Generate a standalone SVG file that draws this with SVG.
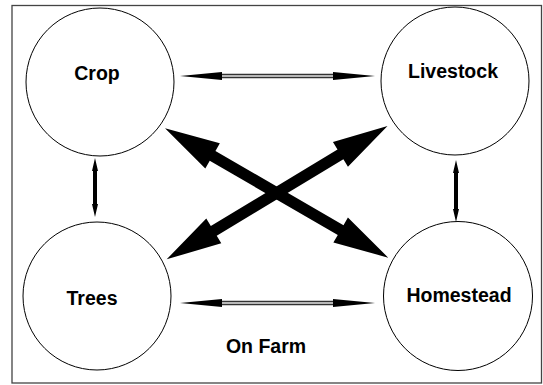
<svg xmlns="http://www.w3.org/2000/svg" width="543" height="385" viewBox="0 0 543 385">
  <style>
    .node circle { fill: #fff; stroke: #000; stroke-width: 1; }
    .lbl { font-family: "Liberation Sans", Arial, sans-serif; font-weight: bold; font-size: 19.5px; fill: #000; text-anchor: middle; }
    .big { fill: #000; }
    .head { fill: #000; }
    .shaft-out { stroke: #333; stroke-width: 4.5; }
    .shaft-in { stroke: #e6e6e6; stroke-width: 1.5; }
  </style>
  <defs>
    <polygon id="bigArrow" points="0,0 55,-14.5 55,-5.7 203,-5.7 203,-14.5 258,0 203,14.5 203,5.7 55,5.7 55,14.5"/>
  </defs>
  <rect x="12" y="5.5" width="529.5" height="377.5" fill="#fff" stroke="#444" stroke-width="1.3"/>

  <g id="crop" class="node">
    <circle cx="100" cy="82" r="74"/>
    <text class="lbl" x="97" y="80">Crop</text>
  </g>
  <g id="livestock" class="node">
    <circle cx="455" cy="81" r="74"/>
    <text class="lbl" x="453" y="78">Livestock</text>
  </g>
  <g id="trees" class="node">
    <circle cx="97" cy="296" r="74"/>
    <text class="lbl" x="92" y="305">Trees</text>
  </g>
  <g id="homestead" class="node">
    <circle cx="458" cy="296" r="74.5"/>
    <text class="lbl" x="459" y="302">Homestead</text>
  </g>

  <g id="connectors">
    <!-- Crop <-> Livestock -->
    <line class="shaft-out" x1="220" y1="76" x2="335" y2="76"/>
    <line class="shaft-in" x1="221" y1="76" x2="334" y2="76"/>
    <polygon class="head" points="180,76 222,72 222,80"/>
    <polygon class="head" points="375,76 333,72 333,80"/>
    <!-- Trees <-> Homestead -->
    <line class="shaft-out" x1="220" y1="303" x2="335" y2="303"/>
    <line class="shaft-in" x1="221" y1="303" x2="334" y2="303"/>
    <polygon class="head" points="180,303 222,299 222,307"/>
    <polygon class="head" points="375,303 333,299 333,307"/>
    <!-- Crop <-> Trees -->
    <polygon class="head" points="95,158 98,171 97,171 97,204 98,204 95,217 92,204 93,204 93,171 92,171"/>
    <!-- Livestock <-> Homestead -->
    <polygon class="head" points="456,160 459,173 458,173 458,209 459,209 456,222 453,209 454,209 454,173 453,173"/>
    <!-- Crop <-> Homestead -->
    <use href="#bigArrow" class="big" transform="translate(165,128.3) rotate(30.09)"/>
    <!-- Trees <-> Livestock -->
    <use href="#bigArrow" class="big" transform="translate(166.7,259.3) rotate(-31.14)"/>
  </g>

  <text class="lbl" x="266" y="353">On Farm</text>
</svg>
